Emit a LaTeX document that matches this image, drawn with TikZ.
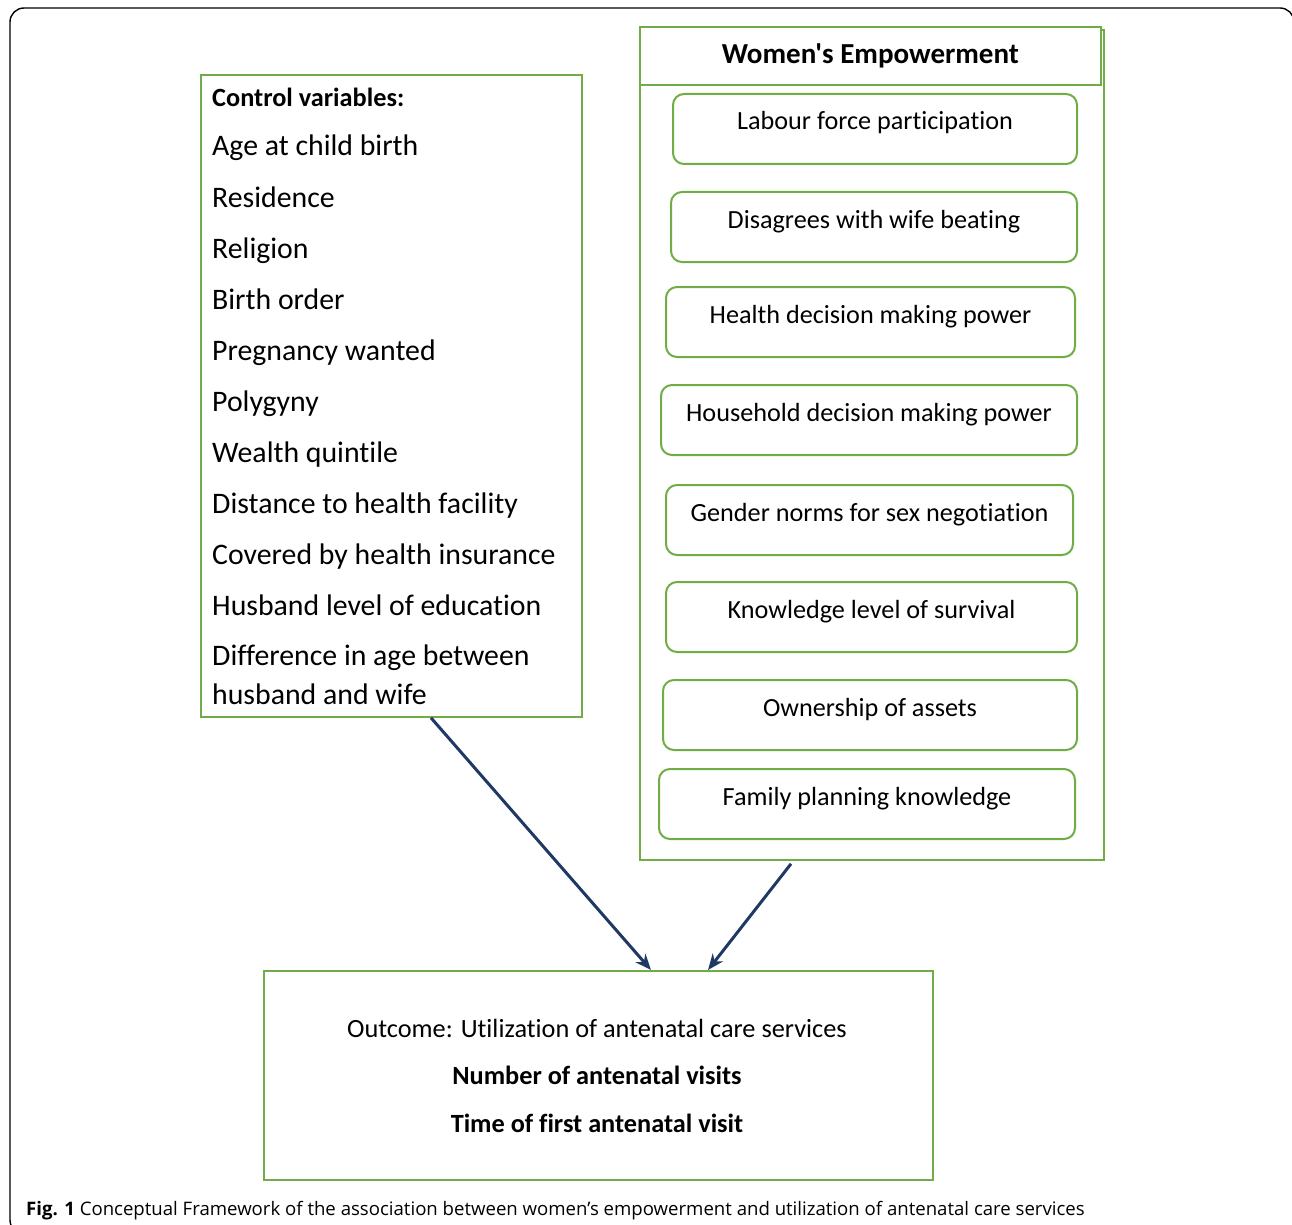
\documentclass[tikz,border=0pt]{standalone}
\usepackage{fontspec}
\setmainfont{Carlito}
\newfontfamily\calfont{Carlito}[Ligatures=NoCommon]
\newfontfamily\capfont{Open Sans}
\usetikzlibrary{arrows.meta}
\definecolor{boxgreen}{HTML}{70AD47}
\definecolor{arrnavy}{HTML}{203864}
\tikzset{
  frame/.style={draw=black,line width=1.4pt,rounded corners=14pt},
  gbox/.style={draw=boxgreen,line width=1.8pt,inner sep=0pt,anchor=north west},
  webox/.style={draw=boxgreen,line width=2pt,rounded corners=11pt,inner sep=0pt,anchor=north west,
    minimum height=70pt,align=center,text height=36pt,text depth=34pt,
    font=\calfont\fontsize{26.2}{31}\selectfont},
  ctrlitem/.style={anchor=base west,inner sep=0pt,align=left,font=\calfont\fontsize{29.8}{39}\selectfont},
  arr/.style={draw=arrnavy,line width=3pt,-{Stealth[length=16pt,width=13pt]}}
}
\begin{document}
\begin{tikzpicture}[x=1pt,y=-1pt]
  \useasboundingbox (0,0) rectangle (1292,1225);
  \clip (0,0) rectangle (1292,1225);
  % outer frame
  \draw[frame] (10,8) rectangle (1294,1234);
  % control variables
  \node[gbox,minimum width=381pt,minimum height=642pt] (ctrl) at (200,74) {};
  \node[ctrlitem,font=\calfont\fontsize{26.3}{31}\selectfont\bfseries] (ctrlhead) at (212,107) {Control variables:};
  \foreach \t [count=\i] in {Age at child birth,Residence,Religion,Birth order,Pregnancy wanted,
      Polygyny,Wealth quintile,Distance to health facility,Covered by health insurance,
      Husband level of education}
    \node[ctrlitem] (ctrl\i) at (212,{156+51.1*(\i-1)}) {\t};
  \node[ctrlitem] (ctrl11) at (212,704) {Difference in age between\\husband and wife};
  % women's empowerment
  \node[gbox,minimum width=464pt,minimum height=830pt] (we) at (639,29) {};
  \node[gbox,fill=white,minimum width=461pt,minimum height=58pt,
        font=\calfont\fontsize{29}{35}\selectfont\bfseries] (wetitle) at (639,26) {Women's Empowerment};
  \foreach \x/\y/\w/\t [count=\i] in {672/93/404/Labour force participation,
      670/191/406/Disagrees with wife beating,665/286/409/Health decision making power,
      660/384/416/Household decision making power,665/484/407/Gender norms for sex negotiation,
      665/581/411/Knowledge level of survival,662/679/414/Ownership of assets,
      658/768/416/Family planning knowledge}
    \node[webox,minimum width=\w pt] (we\i) at (\x,\y) {\t};
  % outcome
  \node[gbox,minimum width=669pt,minimum height=209pt] (outc) at (263,970) {};
  \node[anchor=base,inner sep=0pt,font=\calfont\fontsize{26.3}{31}\selectfont] (outc1) at (597,1037)
    {Outcome: Utilization of antenatal care services};
  \node[anchor=base,inner sep=0pt,font=\calfont\fontsize{26.3}{31}\selectfont\bfseries] (outc2) at (597,1084)
    {Number of antenatal visits};
  \node[anchor=base,inner sep=0pt,font=\calfont\fontsize{26.3}{31}\selectfont\bfseries] (outc3) at (597,1132)
    {Time of first antenatal visit};
  % arrows
  \draw[arr] ([xshift=231pt]ctrl.south west) -- ([xshift=388pt]outc.north west);
  \draw[arr] ([xshift=152pt,yshift=-3pt]we.south west) -- ([xshift=445pt]outc.north west);
  % caption
  \node[anchor=base west,inner sep=0pt,font=\capfont\fontsize{18.6}{23}\selectfont] (cap) at (26,1215)
    {\textbf{Fig. 1} Conceptual Framework of the association between women’s empowerment and utilization of antenatal care services};
\end{tikzpicture}
\end{document}
